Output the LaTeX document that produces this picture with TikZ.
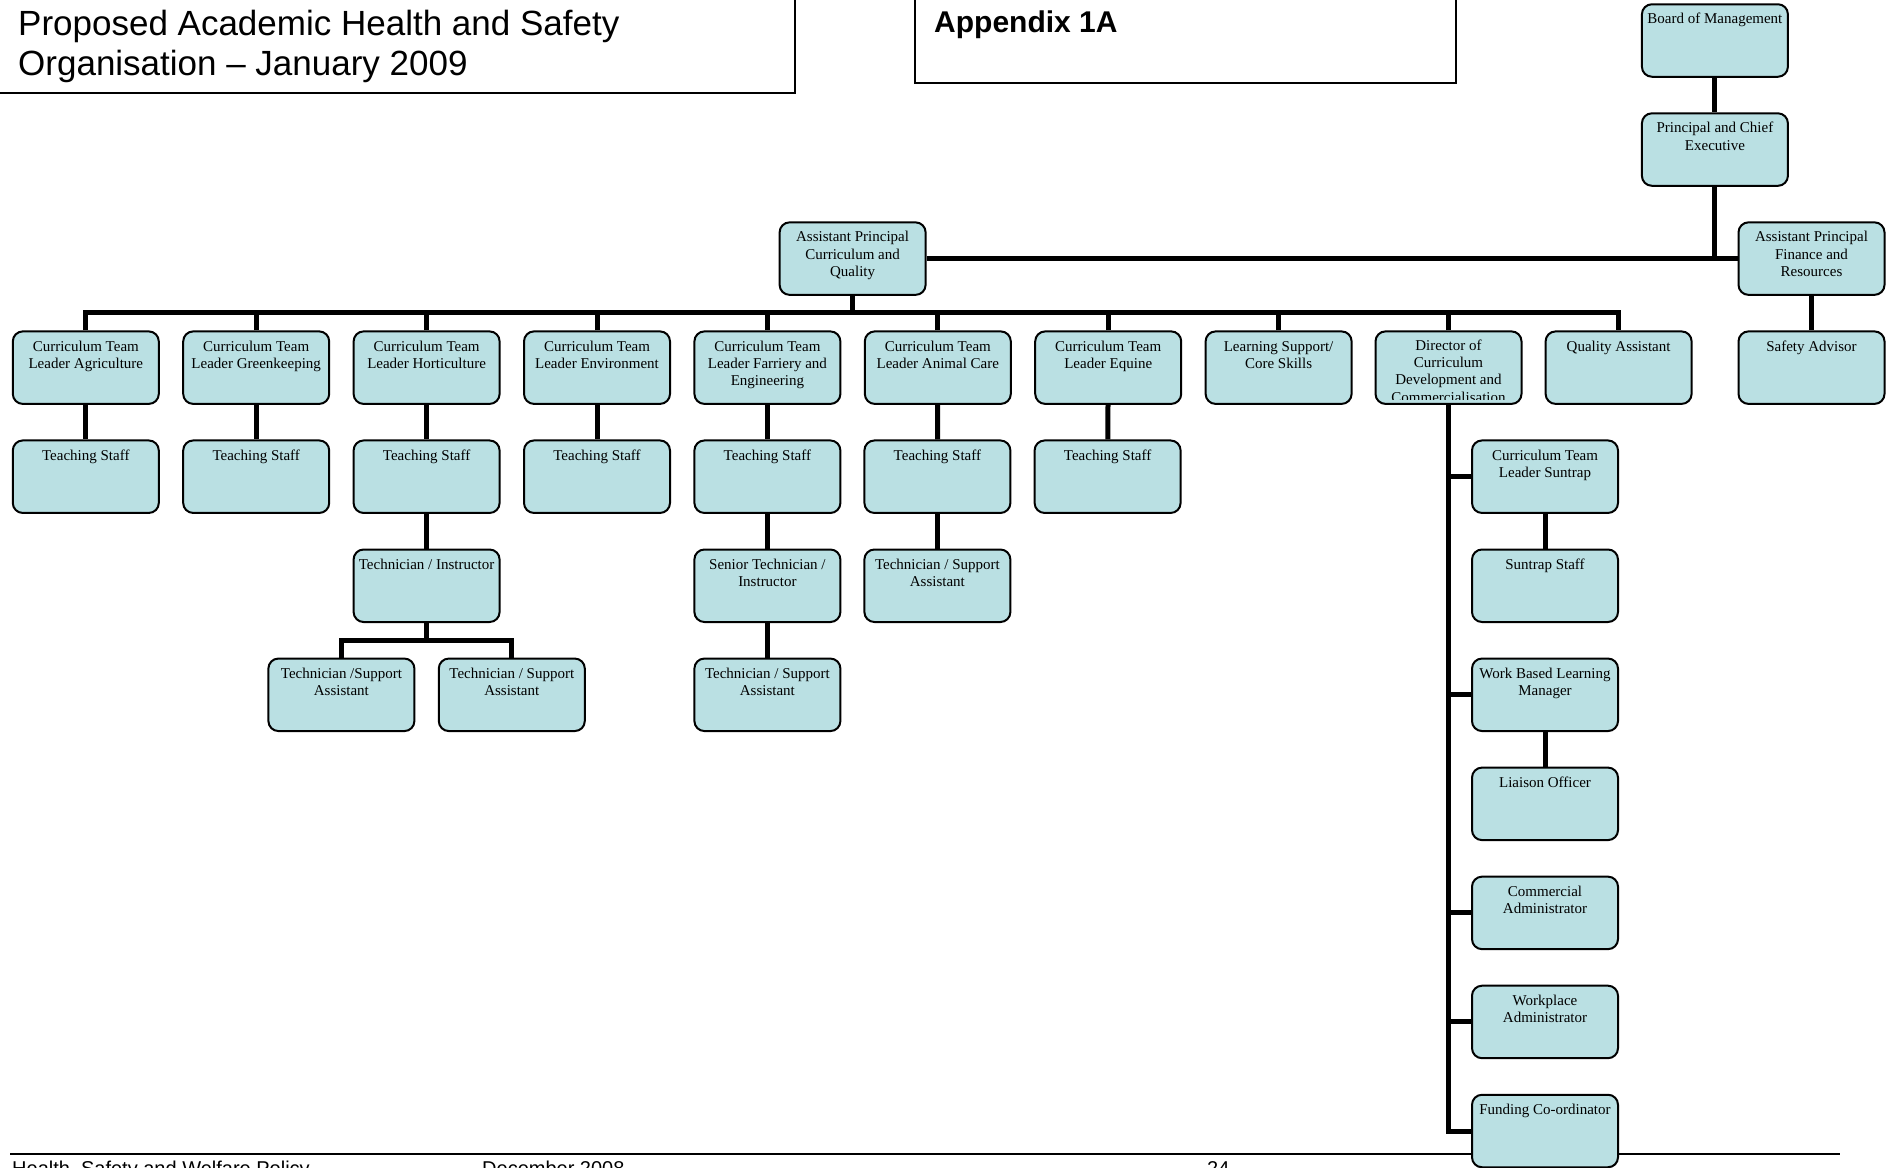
\documentclass[tikz,border=0pt]{standalone}
\usepackage{fontspec}
\setmainfont{Liberation Serif}
\newfontfamily\arialfont{Liberation Sans}
\definecolor{boxfill}{RGB}{186,224,227}
\newcommand{\orgtext}[1]{\parbox[c][72.5pt][t]{146pt}{\centering\rule{0pt}{19.6pt}#1}}
\tikzset{
  orgbox/.style={draw=black, line width=2pt, fill=boxfill, rounded corners=10pt,
    minimum width=146pt, minimum height=72.5pt, inner sep=0pt,
    font=\fontsize{15pt}{17.3pt}\selectfont},
  link/.style={draw=black, line width=5pt, line join=miter},
  frame/.style={draw=black, line width=1.5pt},
  titletext/.style={anchor=base west, inner sep=0pt, font=\arialfont\fontsize{35pt}{40pt}\selectfont},
  foottext/.style={anchor=base west, inner sep=0pt, font=\arialfont\fontsize{20pt}{24pt}\selectfont}
}
\begin{document}
\begin{tikzpicture}[x=1pt,y=-1pt]
\useasboundingbox (0,0) rectangle (1895,1167);
\clip (0,0) rectangle (1895,1167);
\fill[white] (0,0) rectangle (1895,1167);

% header boxes
\draw[frame] (-5,-5) rectangle (795,93);
\node[titletext] (t1) at (18,35.5) {Proposed Academic Health and Safety};
\node[titletext] (t2) at (18,75.5) {Organisation – January 2009};
\draw[frame] (915,-5) rectangle (1456,83);
\node[anchor=base west, inner sep=0pt, font=\arialfont\bfseries\fontsize{30pt}{34pt}\selectfont] (app) at (934,32.6) {Appendix 1A};

% footer
\draw[line width=1.5pt] (10,1154) -- (1840,1154);
\node[foottext] (f1) at (12,1175) {Health, Safety and Welfare Policy};
\node[foottext] (f2) at (482,1175) {December 2008};
\node[foottext] (f3) at (1207,1175) {24};

% coordinates
\coordinate (busy) at (0,312);
\coordinate (splity) at (0,640.8);

% top
\node[orgbox] (board) at (1714.9,40.5) {\orgtext{Board of Management}};
\node[orgbox] (princ) at (1714.9,149.55) {\orgtext{Principal and Chief\\Executive}};
\node[orgbox] (apc) at (852.6,258.6) {\orgtext{Assistant Principal\\Curriculum and\\Quality}};
\node[orgbox] (apf) at (1811.5,258.6) {\orgtext{Assistant Principal\\Finance and\\Resources}};

% row 1
\node[orgbox] (agr) at (85.8,367.65) {\orgtext{Curriculum Team\\Leader Agriculture}};
\node[orgbox] (grn) at (256.2,367.65) {\orgtext{Curriculum Team\\Leader Greenkeeping}};
\node[orgbox] (hor) at (426.6,367.65) {\orgtext{Curriculum Team\\Leader Horticulture}};
\node[orgbox] (env) at (597.0,367.65) {\orgtext{Curriculum Team\\Leader Environment}};
\node[orgbox] (far) at (767.4,367.65) {\orgtext{Curriculum Team\\Leader Farriery and\\Engineering}};
\node[orgbox] (ani) at (937.8,367.65) {\orgtext{Curriculum Team\\Leader Animal Care}};
\node[orgbox] (equ) at (1108.2,367.65) {\orgtext{Curriculum Team\\Leader Equine}};
\node[orgbox] (lsc) at (1278.6,367.65) {\orgtext{Learning Support/\\Core Skills}};
\node[orgbox] (dir) at (1448.5,367.65) {};
\begin{scope}
\clip (dir.north west) rectangle ([yshift=5pt]dir.south east);
\node[anchor=north, inner sep=0pt, font=\fontsize{15pt}{17.3pt}\selectfont] (dirtext) at (dir.north) {\parbox[t]{146pt}{\centering\rule{0pt}{19.6pt}Director of\\Curriculum\\Development and\\Commercialisation}};
\end{scope}
\node[orgbox] (qa) at (1618.6,367.65) {\orgtext{Quality Assistant}};
\node[orgbox] (saf) at (1811.5,367.65) {\orgtext{Safety Advisor}};

% row 2
\node[orgbox] (ts1) at (85.8,476.7) {\orgtext{Teaching Staff}};
\node[orgbox] (ts2) at (256.2,476.7) {\orgtext{Teaching Staff}};
\node[orgbox] (ts3) at (426.6,476.7) {\orgtext{Teaching Staff}};
\node[orgbox] (ts4) at (597.0,476.7) {\orgtext{Teaching Staff}};
\node[orgbox] (ts5) at (767.4,476.7) {\orgtext{Teaching Staff}};
\node[orgbox] (ts6) at (937.4,476.7) {\orgtext{Teaching Staff}};
\node[orgbox] (ts7) at (1107.6,476.7) {\orgtext{Teaching Staff}};

% row 3
\node[orgbox] (tin) at (426.6,585.75) {\orgtext{Technician / Instructor}};
\node[orgbox] (sti) at (767.4,585.75) {\orgtext{Senior Technician /\\Instructor}};
\node[orgbox] (tsa6) at (937.4,585.75) {\orgtext{Technician / Support\\Assistant}};

% row 4
\node[orgbox] (ta1) at (341.4,694.8) {\orgtext{Technician /Support\\Assistant}};
\node[orgbox] (ta2) at (511.8,694.8) {\orgtext{Technician / Support\\Assistant}};
\node[orgbox] (tsa5) at (767.4,694.8) {\orgtext{Technician / Support\\Assistant}};

% director column
\node[orgbox] (stl) at (1545.0,476.7) {\orgtext{Curriculum Team\\Leader Suntrap}};
\node[orgbox] (sst) at (1545.0,585.75) {\orgtext{Suntrap Staff}};
\node[orgbox] (wbl) at (1545.0,694.8) {\orgtext{Work Based Learning\\Manager}};
\node[orgbox] (lia) at (1545.0,803.85) {\orgtext{Liaison Officer}};
\node[orgbox] (com) at (1545.0,912.9) {\orgtext{Commercial\\Administrator}};
\node[orgbox] (wpa) at (1545.0,1021.95) {\orgtext{Workplace\\Administrator}};
\node[orgbox] (fund) at (1545.0,1131) {\orgtext{Funding Co-ordinator}};

% connectors
\draw[link] (board) -- (princ);
\draw[link] (princ.south) -- (princ.south |- apc.east);
\draw[link] (apc.east) -- (apf.west);
\draw[link] (apf) -- (saf);
\draw[link] (apc.south) -- (apc.south |- busy);
\draw[link] (agr.north) -- (agr.north |- busy) -- (qa.north |- busy) -- (qa.north);
\foreach \n in {grn,hor,env,far,ani,equ,lsc,dir}
  \draw[link] (\n.north) -- (\n.north |- busy);
\draw[link] (agr) -- (ts1);
\draw[link] (grn) -- (ts2);
\draw[link] (hor) -- (ts3);
\draw[link] (env) -- (ts4);
\draw[link] (far) -- (ts5);
\draw[link] (ani) -- (ts6);
\draw[link] (equ) -- (ts7);
\draw[link] (ts3) -- (tin);
\draw[link] (tin.south) -- (tin.south |- splity);
\draw[link] (ta1.north) -- (ta1.north |- splity) -- (ta2.north |- splity) -- (ta2.north);
\draw[link] (ts5) -- (sti);
\draw[link] (sti) -- (tsa5);
\draw[link] (ts6) -- (tsa6);
\draw[link] (dir.south) -- (dir.south |- fund.west) -- (fund.west);
\foreach \n in {stl,wbl,com,wpa}
  \draw[link] (dir.south |- \n.west) -- (\n.west);
\draw[link] (stl) -- (sst);
\draw[link] (wbl) -- (lia);
\end{tikzpicture}
\end{document}
